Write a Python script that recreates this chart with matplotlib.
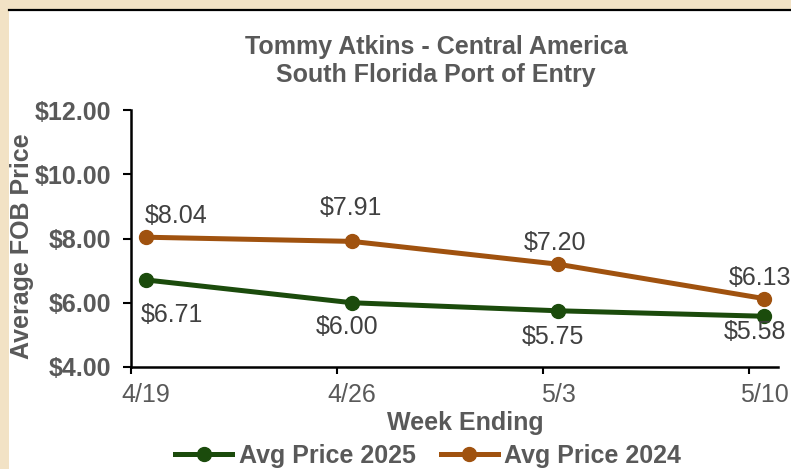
import matplotlib
matplotlib.use('Agg')
import matplotlib.pyplot as plt
from matplotlib.patches import Rectangle
from matplotlib.lines import Line2D

plt.rcParams['font.family'] = ['Liberation Sans', 'DejaVu Sans']

weeks = ['4/19', '4/26', '5/3', '5/10']
price_2025 = [6.71, 6.00, 5.75, 5.58]
price_2024 = [8.04, 7.91, 7.20, 6.13]
y_ticks = [4, 6, 8, 10, 12]

green = '#1B4B0C'
orange = '#A0520F'
grey = '#595959'
beige = '#F2E2C5'

fig = plt.figure(figsize=(7.91, 4.69), dpi=100, facecolor=beige)
W, H = 791, 469

# white chart panel with black top edge
fig.patches.append(Rectangle((9 / W, 0), 1 - 9 / W, 1 - 10 / H, transform=fig.transFigure,
                             facecolor='white', edgecolor='none', zorder=-2))
fig.lines.append(Line2D([9 / W, 1], [1 - 10.5 / H, 1 - 10.5 / H], transform=fig.transFigure,
                        color='black', lw=1.6, zorder=-1))

ax = fig.add_axes([131 / W, 1 - 367 / H, (778 - 131) / W, (367 - 110) / H])
ax.set_facecolor('none')
ax.set_zorder(2)

x = list(range(len(weeks)))
ax.plot(x, price_2025, color=green, lw=3.6, marker='o', ms=10, solid_capstyle='round', zorder=3)
ax.plot(x, price_2024, color=orange, lw=3.6, marker='o', ms=10, solid_capstyle='round', zorder=3)

off = 15 / 206
ax.set_xlim(-off, 3.068)
ax.set_ylim(4, 12)

# major ticks at week boundaries, labels on the points
ax.set_xticks([i - off for i in x])
ax.set_xticklabels([])
ax.set_xticks(x, minor=True)
ax.set_xticklabels(weeks, minor=True)
ax.tick_params(axis='x', which='minor', length=0, pad=11.5, labelsize=18, labelcolor=grey)
ax.tick_params(axis='x', which='major', length=5, width=1.5, direction='out')

ax.set_yticks(y_ticks)
ax.set_yticklabels([f'${v:.2f}' for v in y_ticks])
ax.tick_params(axis='y', length=6, width=1.5, direction='out', pad=8, labelsize=18, labelcolor=grey)
for lab in ax.get_yticklabels():
    lab.set_fontweight('bold')

for s in ['top', 'right']:
    ax.spines[s].set_visible(False)
for s in ['left', 'bottom']:
    ax.spines[s].set_linewidth(1.8)

# data labels
offs_2024 = [(30, 21), (-1, 33), (-3, 21), (-4, 21)]
offs_2025 = [(26, -35), (-5, -24), (-5, -26), (-9, -16)]
for i, v in enumerate(price_2024):
    ax.annotate(f'${v:.2f}', (i, v), xytext=offs_2024[i], textcoords='offset pixels',
                ha='center', va='center', fontsize=18, color='#404040', annotation_clip=False)
for i, v in enumerate(price_2025):
    ax.annotate(f'${v:.2f}', (i, v), xytext=offs_2025[i], textcoords='offset pixels',
                ha='center', va='center', fontsize=18, color='#404040', annotation_clip=False)

fig.text(436 / W, 1 - 47 / H, 'Tommy Atkins - Central America', ha='center', va='center',
         fontsize=18, fontweight='bold', color=grey)
fig.text(436 / W, 1 - 75 / H, 'South Florida Port of Entry', ha='center', va='center',
         fontsize=18, fontweight='bold', color=grey)
fig.text(22 / W, 1 - 246 / H, 'Average FOB Price', ha='center', va='center', rotation=90,
         fontsize=18, fontweight='bold', color=grey)
fig.text(465 / W, 1 - 423 / H, 'Week Ending', ha='center', va='center',
         fontsize=18, fontweight='bold', color=grey)

handles = [Line2D([], [], color=green, lw=3.6, marker='o', ms=10),
           Line2D([], [], color=orange, lw=3.6, marker='o', ms=10)]
leg = fig.legend(handles, ['Avg Price 2025', 'Avg Price 2024'], loc='center',
                 bbox_to_anchor=(428 / W, 1 - 456 / H), ncol=2, frameon=False,
                 handlelength=2.3, handletextpad=0.25, columnspacing=1.0,
                 prop={'size': 18, 'weight': 'bold'})
for t in leg.get_texts():
    t.set_color(grey)

fig.savefig('out.png', dpi=100, facecolor=beige)
